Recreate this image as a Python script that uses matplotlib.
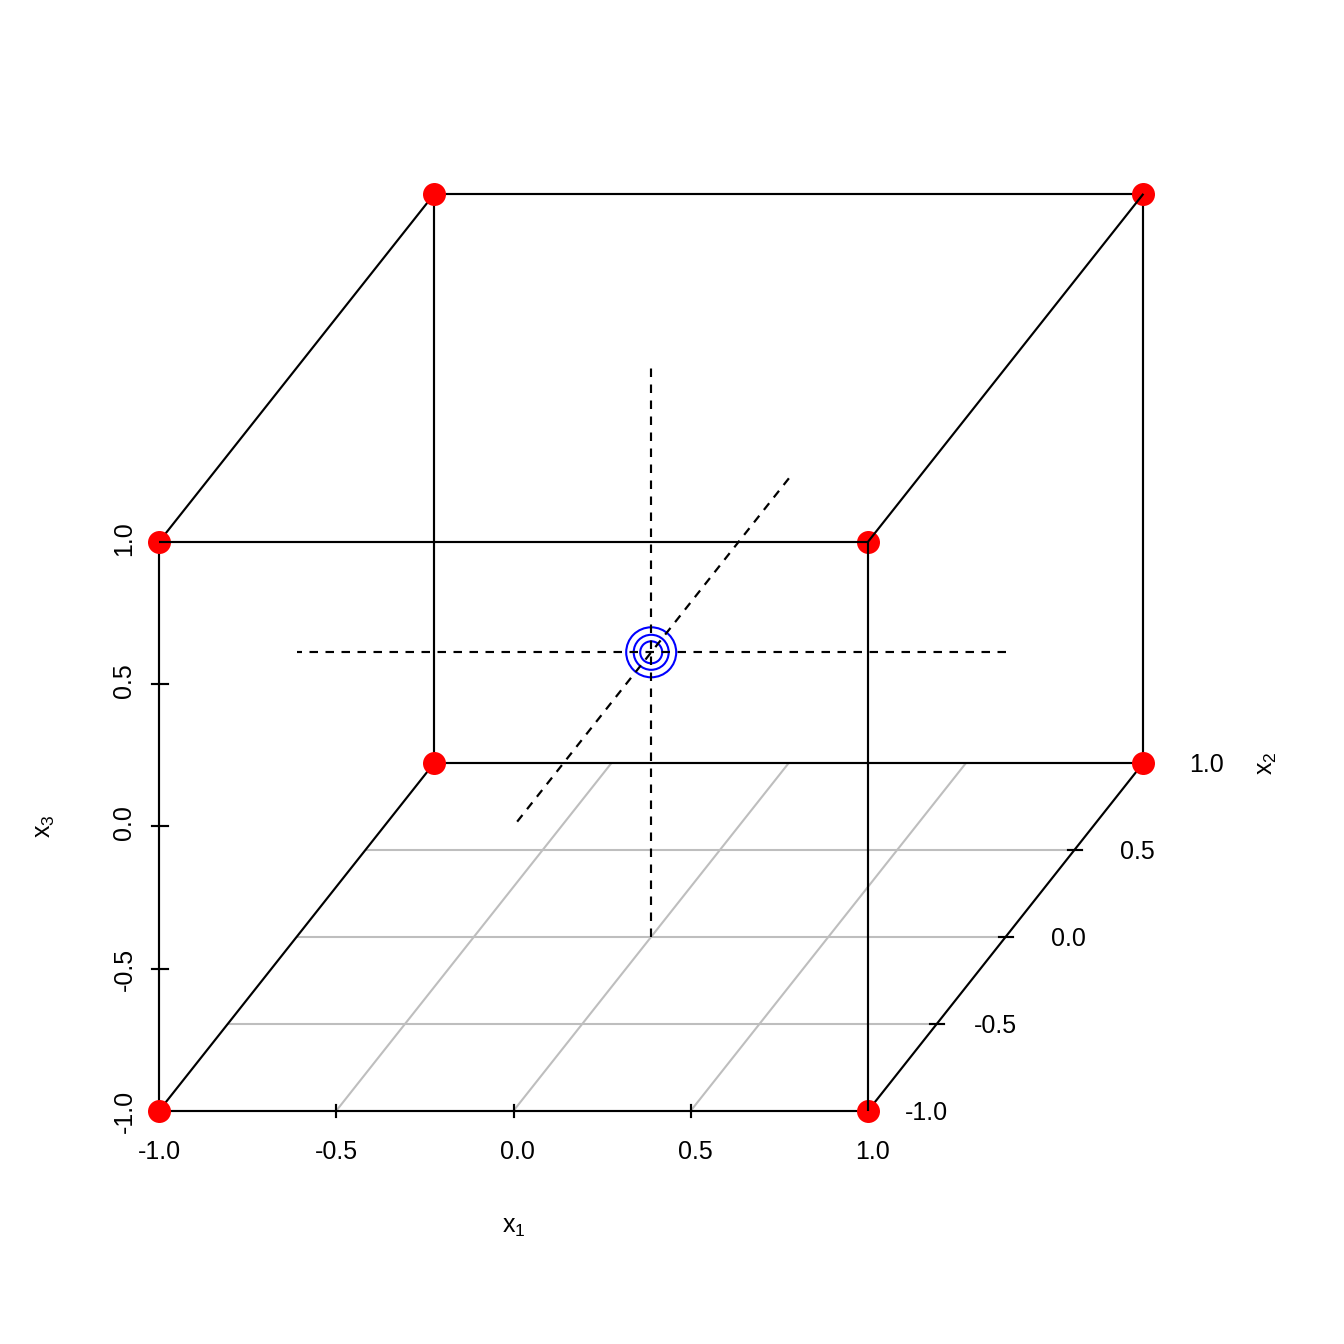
import matplotlib
matplotlib.use("Agg")
import matplotlib.pyplot as plt
import numpy as np

plt.rcParams["font.family"] = ["Liberation Sans", "DejaVu Sans"]
plt.rcParams["mathtext.fontset"] = "custom"
plt.rcParams["mathtext.rm"] = "Liberation Sans"
plt.rcParams["lines.scale_dashes"] = False

# data
corners_x1 = [-1, 1, -1, 1, -1, 1, -1, 1]
corners_x2 = [-1, -1, 1, 1, -1, -1, 1, 1]
corners_x3 = [-1, -1, -1, -1, 1, 1, 1, 1]
ticks = [-1.0, -0.5, 0.0, 0.5, 1.0]
tick_labels = ["-1.0", "-0.5", "0.0", "0.5", "1.0"]
grid_vals = [-0.5, 0.0, 0.5]
centre_x1 = [0, 0, 0]
centre_x2 = [0, 0, 0]
centre_x3 = [0, 0, 0]
centre_radii = [11, 17.5, 25]


def proj(x1, x2, x3):
    # oblique projection onto pixel coordinates
    return 513.5 + 354.5 * x1 + 137.7 * (x2 + 1), 652.3 - 174 * x2 - 284.5 * x3


def line(ax, a, b, **kw):
    xa, ya = proj(*a)
    xb, yb = proj(*b)
    ax.plot([xa, xb], [ya, yb], solid_capstyle="butt", **kw)


fig = plt.figure(figsize=(13.44, 13.44), dpi=100)
ax = fig.add_axes([0, 0, 1, 1])
ax.set_xlim(0, 1344)
ax.set_ylim(1344, 0)
ax.axis("off")

black = dict(color="black", lw=1.55)
grey = dict(color="#bebebe", lw=1.5)
dash = dict(color="black", lw=1.55, dashes=(6.12, 5.4), snap=True)
dash_diag = dict(color="black", lw=1.6, dashes=(6.12, 5.33))

for v in grid_vals:
    line(ax, (v, -1, -1), (v, 1, -1), zorder=1, **grey)
    line(ax, (-1, v, -1), (1, v, -1), zorder=1, **grey)

# edges under the points
line(ax, (-1, 1, -1), (1, 1, -1), zorder=2, **black)
line(ax, (-1, 1, -1), (-1, 1, 1), zorder=2, **black)
line(ax, (-1, 1, 1), (1, 1, 1), zorder=2, **black)
line(ax, (1, 1, -1), (1, 1, 1), zorder=2, **black)
line(ax, (-1, -1, -1), (-1, 1, -1), zorder=2, **black)
line(ax, (1, -1, -1), (1, 1, -1), zorder=2, **black)
line(ax, (-1, -1, 1), (-1, 1, 1), zorder=2, **black)
line(ax, (-1, -1, -1), (1, -1, -1), zorder=2, **black)
line(ax, (-1, -1, -1), (-1, -1, 1), zorder=2, **black)

px, py = proj(np.array(corners_x1), np.array(corners_x2), np.array(corners_x3))
ax.scatter(px, py, s=(23 * 0.72) ** 2, color="red", linewidths=0, zorder=3)

# edges that sit over the points
line(ax, (1, -1, -1), (1, -1, 1), zorder=4, **black)
line(ax, (-1, -1, 1), (1, -1, 1), zorder=4, **black)
line(ax, (1, -1, 1), (1, 1, 1), zorder=4, **black)

for cx1, cx2, cx3, r in zip(centre_x1, centre_x2, centre_x3, centre_radii):
    cx, cy = proj(cx1, cx2, cx3)
    ax.scatter(
        [cx], [cy], s=(2 * r * 0.72) ** 2, facecolors="none",
        edgecolors="#0000ff", linewidths=1.5, zorder=4.5,
    )

# axial runs, each started from the end where its dash pattern begins
line(ax, (0, 0, -1), (0, 0, 1), zorder=5, **dash)
line(ax, (1, 0, 0), (-1, 0, 0), zorder=5, **dash)
line(ax, (0, 1, 0), (0, -1, 0), zorder=5, **dash_diag)

font = dict(fontsize=18, color="black", rotation_mode="anchor", va="baseline")

for v, lab in zip(ticks, tick_labels):
    # x1 axis
    tx, ty = proj(v, -1, -1)
    ax.plot([tx, tx], [ty - 6, ty + 6], zorder=2, **black)
    ax.text(tx + 21.7, 1159, lab, ha="right", **font)
    # x2 axis
    tx, ty = proj(1, v, -1)
    ax.plot([tx - 7, tx + 7], [ty, ty], zorder=2, **black)
    ax.text(tx + 80.5, ty + 9, lab, ha="right", **font)
    # x3 axis
    tx, ty = proj(-1, -1, v)
    ax.plot([tx - 7, tx + 9], [ty, ty], zorder=2, **black)
    ax.text(131.5, ty - 21, lab, ha="right", rotation=90, **font)

ax.text(514, 1227, r"$\mathrm{x_1}$", ha="center", va="center", fontsize=18)
ax.text(1267, 763, r"$\mathrm{x_2}$", ha="center", va="center", rotation=90, fontsize=18)
ax.text(45, 826, r"$\mathrm{x_3}$", ha="center", va="center", rotation=90, fontsize=18)

fig.savefig("out.png", dpi=100)
plt.close(fig)
